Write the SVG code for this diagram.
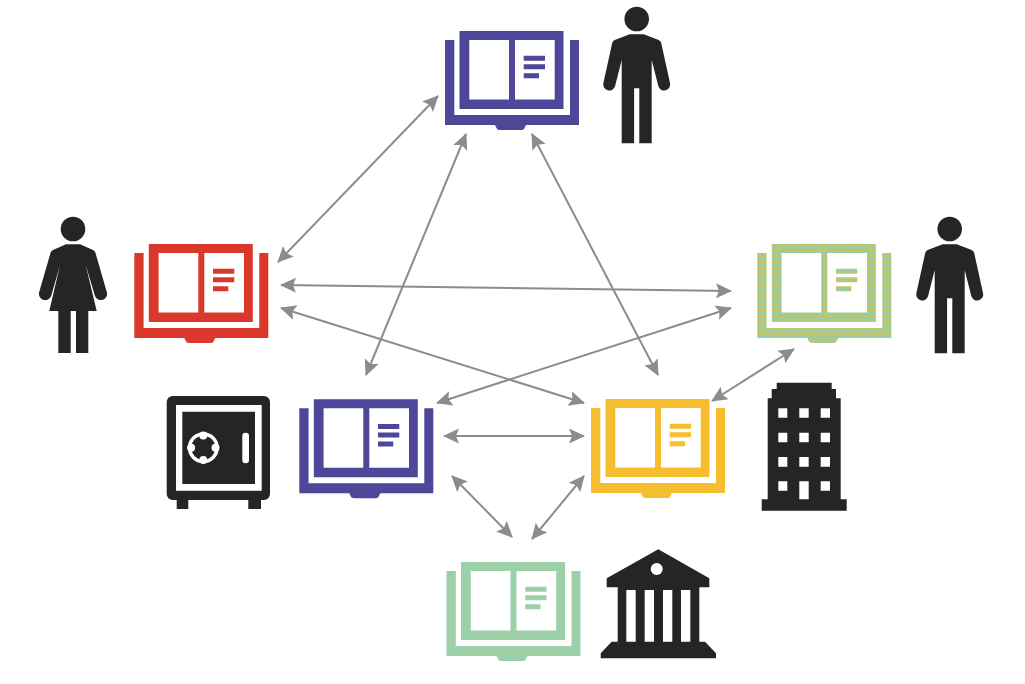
<svg xmlns="http://www.w3.org/2000/svg" width="1025" height="684" viewBox="0 0 1025 684">
<style>
.arrow{fill:none;stroke:#8c8c8c;stroke-width:2;marker-start:url(#head);marker-end:url(#head)}
.dark{fill:#252525}
.gap{fill:#fff}
</style>
<defs>
<marker id="head" markerUnits="userSpaceOnUse" markerWidth="20" markerHeight="20" viewBox="0 0 20 20" refX="16" refY="10" orient="auto-start-reverse">
<path d="M17 10L1 2.5L4 10L1 17.500Z" fill="#8c8c8c"/>
</marker>
<pattern id="dots" width="3" height="3" patternUnits="userSpaceOnUse">
<rect width="3" height="3" fill="#97cda4"/>
<rect x="0" y="0" width="1.500" height="1.500" fill="#f0b92e"/>
</pattern>
<path id="book" fill-rule="evenodd" d="M0 9H9.300V84H125V9H134V94H81L79 98Q78 99 76 99H55Q53 99 52 98L50 94H0ZM14.500 0H118.500V78H14.500ZM24.300 9V68.500H64V9ZM70 9V68.500H109.700V9ZM78.700 24.700V29.700H100V24.700ZM78.700 33.300V38.300H100V33.300ZM78.700 42.300V47.300H94V42.300Z"/>
<g id="man">
<circle cx="0" cy="0" r="12.300"/>
<path d="M-7 15.300H7L22 21Q24 22 24.500 24L33.300 64A6 6 0 0 1 21.600 67L15 41V124.300H2.600V69.300H-2.600V124.300H-15V41L-21.600 67A6 6 0 0 1 -33.300 64L-24.500 24Q-24 22 -22 21Z"/>
</g>
</defs>
<g id="connectors">
<line class="arrow" x1="438" y1="96" x2="278" y2="262"/>
<line class="arrow" x1="466" y1="134" x2="366" y2="375"/>
<line class="arrow" x1="532" y1="134" x2="658" y2="375"/>
<line class="arrow" x1="281" y1="285" x2="731" y2="291"/>
<line class="arrow" x1="281" y1="308" x2="584" y2="403"/>
<line class="arrow" x1="731" y1="308" x2="437" y2="403"/>
<line class="arrow" x1="444" y1="436" x2="584" y2="436"/>
<line class="arrow" x1="452" y1="476" x2="512" y2="537"/>
<line class="arrow" x1="584" y1="476" x2="532" y2="539"/>
<line class="arrow" x1="794" y1="349" x2="712" y2="401"/>
</g>
<g id="book-top"><use href="#book" x="445" y="31" fill="#4d4699"/></g>
<g id="book-red"><use href="#book" x="134.300" y="244" fill="#db382c"/></g>
<g id="book-mixed"><use href="#book" x="757.300" y="244" fill="url(#dots)"/></g>
<g id="book-blue"><use href="#book" x="299.300" y="399.300" fill="#4d4699"/></g>
<g id="book-yellow"><use href="#book" x="591" y="399" fill="#f6bd2e"/></g>
<g id="book-green"><use href="#book" x="446.500" y="562" fill="#9bd0a8"/></g>
<g id="person-top" class="dark"><use href="#man" x="636.700" y="19"/></g>
<g id="person-right" class="dark"><use href="#man" x="949.700" y="229"/></g>
<g id="person-woman" class="dark">
<circle cx="73" cy="229" r="12.300"/>
<path d="M66 244.300H80L93 250Q95 251 95.500 253L106.700 291.700A6 6 0 0 1 95 296L85.700 265L96.700 311H88.300V353H76V311H70.700V353H58.300V311H49.300L60 265L51.200 296A6 6 0 0 1 39.300 291.700L50.500 253Q51 251 53 250Z"/>
</g>
<g id="safe">
<path class="dark" d="M172.700 396H264A6 6 0 0 1 270 402V494A6 6 0 0 1 264 500H261V509H248.300V500H188.300V509H176.700V500H172.700A6 6 0 0 1 166.700 494V402A6 6 0 0 1 172.700 396Z"/>
<path class="gap" fill-rule="evenodd" d="M176 405H261.700V490.700H176ZM182.300 411.700V484H255V411.700Z"/>
<circle class="gap" cx="203.300" cy="447.700" r="15.500"/>
<circle class="dark" cx="203.300" cy="447.700" r="12"/>
<circle class="gap" cx="203.300" cy="435.500" r="4"/>
<circle class="gap" cx="203.300" cy="459.900" r="4"/>
<circle class="gap" cx="191.100" cy="447.700" r="4"/>
<circle class="gap" cx="215.500" cy="447.700" r="4"/>
<rect class="gap" x="242.300" y="432.700" width="6.700" height="30.600" rx="3.300"/>
</g>
<g id="building">
<path class="dark" d="M776.700 382.700H831.700V389H836V398.300H840.700V499.300H846.700V510.700H761.700V499.300H767.700V398.300H771.700V389H776.700Z"/>
<path class="gap" d="M778.300 408.300h9v9.400h-9zM799.300 408.300h9.400v9.400h-9.400zM820.700 408.300h9.300v9.400h-9.300zM778.300 432.700h9v9.600h-9zM799.300 432.700h9.400v9.600h-9.400zM820.700 432.700h9.300v9.600h-9.300zM778.300 457h9v9.700h-9zM799.300 457h9.400v9.700h-9.400zM820.700 457h9.300v9.700h-9.300zM778.300 481.300h9v9.400h-9zM799.300 481.300h9.400v18h-9.400zM820.700 481.300h9.300v9.400h-9.300z"/>
</g>
<g id="bank">
<path class="dark" d="M658.300 549.300L709.300 578.300V587.300H699.300V641.700H705L716 653.300V658.300H600.700V653.300L611.700 641.700H617.700V587.300H606.700V578.300Z"/>
<path class="gap" d="M626.300 590h9.400v51.700h-9.400zM644.700 590h9.300v51.700h-9.300zM663 590h9.300v51.700h-9.300zM681 590h9.300v51.700h-9.300z"/>
<circle class="gap" cx="656.700" cy="569" r="6"/>
</g>
</svg>
